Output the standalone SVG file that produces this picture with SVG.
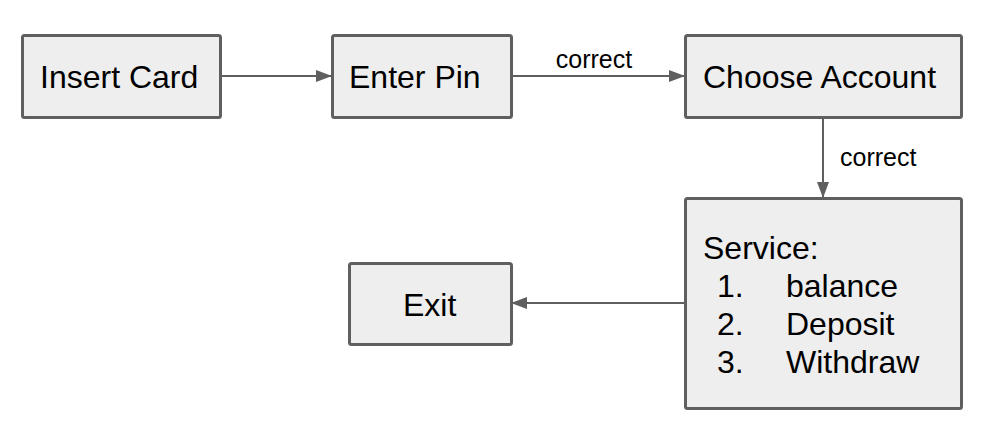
<svg xmlns="http://www.w3.org/2000/svg" width="989" height="444" viewBox="0 0 989 444">
<style>
.box{fill:#eeeeee;stroke:#5f5f5f;stroke-width:3}
.t{font-family:"Liberation Sans",Arial,sans-serif;font-size:32px;fill:#000}
.lbl{font-family:"Liberation Sans",Arial,sans-serif;font-size:25px;fill:#000}
.c{fill:none;stroke:#5f5f5f;stroke-width:2}
</style>
<defs>
<marker id="ah" markerWidth="16" markerHeight="12" refX="15" refY="6" orient="auto" markerUnits="userSpaceOnUse">
<path d="M0,0 L16,6 L0,12 Z" fill="#5f5f5f"/>
</marker>
</defs>
<g id="connectors">
<line class="c" x1="221" y1="76" x2="331" y2="76" marker-end="url(#ah)"/>
<line class="c" x1="512" y1="76" x2="684" y2="76" marker-end="url(#ah)"/>
<text class="lbl" x="594" y="68" text-anchor="middle">correct</text>
<line class="c" x1="823" y1="118" x2="823" y2="197" marker-end="url(#ah)"/>
<text class="lbl" x="840" y="166">correct</text>
<line class="c" x1="684" y1="303" x2="512" y2="303" marker-end="url(#ah)"/>
</g>
<g id="insert-card">
<rect class="box" x="22.5" y="35.5" width="198" height="82" rx="2"/>
<text class="t" x="40" y="88">Insert Card</text>
</g>
<g id="enter-pin">
<rect class="box" x="332.5" y="35.5" width="179" height="82" rx="2"/>
<text class="t" x="349" y="88">Enter Pin</text>
</g>
<g id="choose-account">
<rect class="box" x="685.5" y="35.5" width="276" height="82" rx="2"/>
<text class="t" x="703" y="88">Choose Account</text>
</g>
<g id="service">
<rect class="box" x="685.5" y="198.5" width="276" height="210" rx="2"/>
<text class="t" x="703" y="259">Service:</text>
<text class="t" x="717" y="297">1.</text>
<text class="t" x="786" y="297">balance</text>
<text class="t" x="717" y="335">2.</text>
<text class="t" x="786" y="335">Deposit</text>
<text class="t" x="717" y="373">3.</text>
<text class="t" x="786" y="373">Withdraw</text>
</g>
<g id="exit">
<rect class="box" x="349.5" y="263.5" width="162" height="81" rx="2"/>
<text class="t" x="403" y="316">Exit</text>
</g>
</svg>
